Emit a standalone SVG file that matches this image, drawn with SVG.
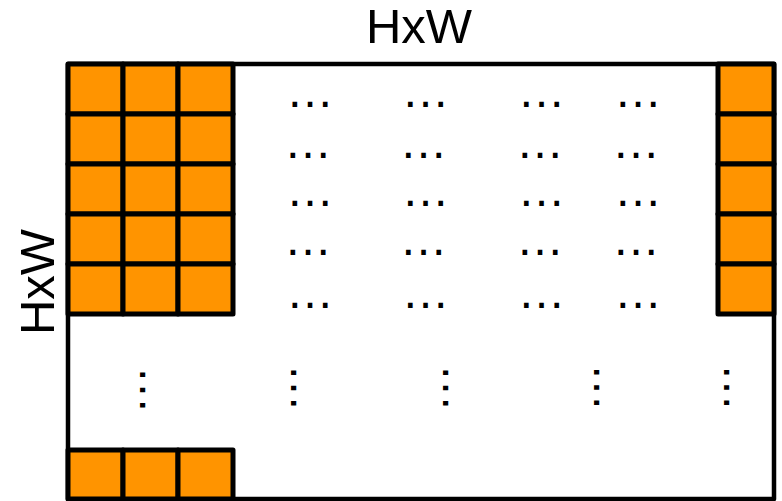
<svg xmlns="http://www.w3.org/2000/svg" width="782" height="501" viewBox="0 0 782 501">
<style>
.cell{fill:#ff9400;stroke:#000;stroke-width:5;stroke-linejoin:round}
.frame{fill:#fff;stroke:#000;stroke-width:4.5;stroke-linejoin:round}
.lbl{font-family:"Liberation Sans",Arial,sans-serif;font-size:49px;fill:#000}
.dots{font-family:"Liberation Sans",Arial,sans-serif;font-size:48px;fill:#000}
</style>
<g id="frame"><rect class="frame" x="68" y="64" width="706" height="435"/></g>
<g id="left-block">
<rect class="cell" x="68" y="64" width="55" height="50"/><rect class="cell" x="123" y="64" width="55" height="50"/><rect class="cell" x="178" y="64" width="55" height="50"/>
<rect class="cell" x="68" y="114" width="55" height="50"/><rect class="cell" x="123" y="114" width="55" height="50"/><rect class="cell" x="178" y="114" width="55" height="50"/>
<rect class="cell" x="68" y="164" width="55" height="50"/><rect class="cell" x="123" y="164" width="55" height="50"/><rect class="cell" x="178" y="164" width="55" height="50"/>
<rect class="cell" x="68" y="214" width="55" height="50"/><rect class="cell" x="123" y="214" width="55" height="50"/><rect class="cell" x="178" y="214" width="55" height="50"/>
<rect class="cell" x="68" y="264" width="55" height="50"/><rect class="cell" x="123" y="264" width="55" height="50"/><rect class="cell" x="178" y="264" width="55" height="50"/>
</g>
<g id="right-column">
<rect class="cell" x="718" y="64" width="56" height="50"/>
<rect class="cell" x="718" y="114" width="56" height="50"/>
<rect class="cell" x="718" y="164" width="56" height="50"/>
<rect class="cell" x="718" y="214" width="56" height="50"/>
<rect class="cell" x="718" y="264" width="56" height="50"/>
</g>
<g id="bottom-row">
<rect class="cell" x="68" y="450" width="55" height="49"/><rect class="cell" x="123" y="450" width="55" height="49"/><rect class="cell" x="178" y="450" width="55" height="49"/>
</g>
<g id="labels">
<text class="lbl" x="419" y="43" text-anchor="middle">HxW</text>
<text class="lbl" transform="translate(54,282) rotate(-90)" text-anchor="middle">HxW</text>
</g>
<g id="h-dots" class="dots">
<text x="286" y="106.5">…</text><text x="401.5" y="106.5">…</text><text x="517.5" y="106.5">…</text><text x="614" y="106.5">…</text>
<text x="284" y="157.5">…</text><text x="399.5" y="157.5">…</text><text x="516" y="157.5">…</text><text x="612" y="157.5">…</text>
<text x="286" y="206">…</text><text x="401.5" y="206">…</text><text x="517.5" y="206">…</text><text x="614" y="206">…</text>
<text x="284" y="255">…</text><text x="399.5" y="255">…</text><text x="516" y="255">…</text><text x="612" y="255">…</text>
<text x="286" y="307.5">…</text><text x="401.5" y="307.5">…</text><text x="517.5" y="307.5">…</text><text x="614" y="307.5">…</text>
</g>
<g id="v-dots" class="dots">
<text transform="translate(139.6,366) rotate(90)">…</text>
<text transform="translate(290.6,364) rotate(90)">…</text>
<text transform="translate(442.6,364) rotate(90)">…</text>
<text transform="translate(593.6,363.5) rotate(90)">…</text>
<text transform="translate(723.6,363.5) rotate(90)">…</text>
</g>
</svg>
